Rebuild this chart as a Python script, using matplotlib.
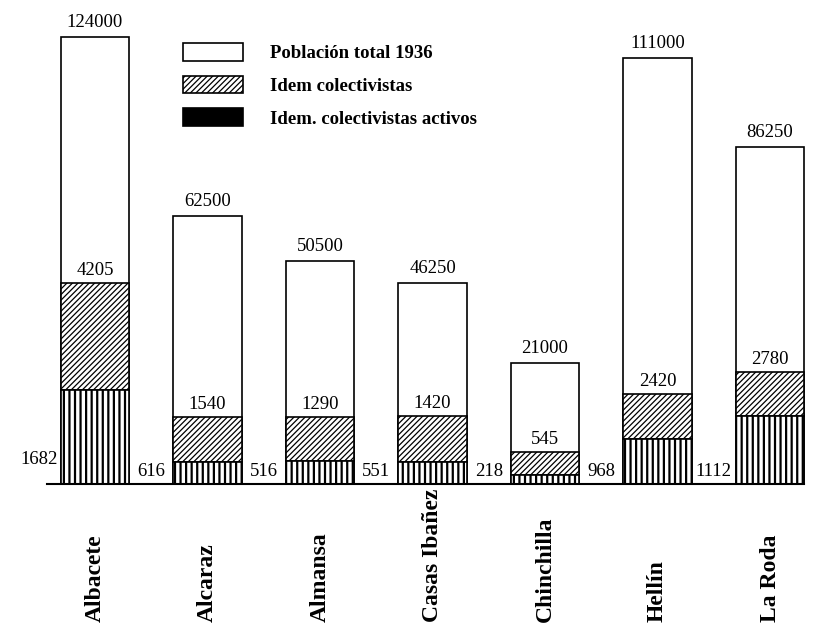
import matplotlib
matplotlib.use("Agg")
import matplotlib.pyplot as plt
from matplotlib.patches import Patch
from matplotlib.transforms import blended_transform_factory

# ---- data -------------------------------------------------------------
categories = ["Albacete", "Alcaraz", "Almansa", "Casas Ibañez",
              "Chinchilla", "Hellín", "La Roda"]

# values written on the chart
poblacion_total = [124000, 62500, 50500, 46250, 21000, 111000, 86250]
colectivistas = [4205, 1540, 1290, 1420, 545, 2420, 2780]
colectivistas_activos = [1682, 616, 516, 551, 218, 968, 1112]

# bar heights as drawn in the original (not to scale)
# in drawing units
alto_total = [447, 268, 223, 201, 121, 426, 337]
alto_colect = [201, 67, 67, 68, 32, 90, 112]
alto_activos = [94, 22, 23, 22, 9, 45, 68]

legend_labels = ["Población total 1936", "Idem colectivistas",
                 "Idem. colectivistas activos"]

# ---- figure -----------------------------------------------------------
W, H = 832, 629
fig = plt.figure(figsize=(W / 100, H / 100), dpi=100)
base_px = 484
ax = fig.add_axes([0, (H - base_px) / H, 1, base_px / H])
ax.set_ylim(0, base_px)
step = 112.5
c0 = 95
ax.set_xlim(-c0 / step, (W - c0) / step)
ax.axis("off")

plt.rcParams["font.family"] = ["Liberation Serif", "DejaVu Serif"]

x = list(range(len(categories)))
bw = 0.605

with plt.rc_context({"hatch.linewidth": 0.9}):
    b1 = ax.bar(x, alto_total, width=bw, facecolor="white",
                edgecolor="black", linewidth=1.2, zorder=2)
    hatched_h = [c - a for c, a in zip(alto_colect, alto_activos)]
    b2 = ax.bar(x, hatched_h, bottom=alto_activos, width=bw,
                facecolor="white", edgecolor="black", linewidth=1.2,
                hatch="//////", zorder=3)
with plt.rc_context({"hatch.linewidth": 1.6}):
    b3 = ax.bar(x, alto_activos, width=bw, facecolor="white",
                edgecolor="black", linewidth=1.2, hatch="|||", zorder=3)

# baseline
ax.plot([-0.43, len(x) - 1 + bw / 2], [0, 0], color="black",
        lw=1.5, zorder=4, clip_on=False)

num_fs = 13.5
for i in x:
    ax.text(i, alto_total[i] + 6, f"{poblacion_total[i]}", ha="center",
            va="bottom", fontsize=num_fs)
    ax.text(i, alto_colect[i] + 4, f"{colectivistas[i]}", ha="center",
            va="bottom", fontsize=num_fs)
    yoff = 24 if i == 0 else 13
    ax.text(i - 0.5, yoff, f"{colectivistas_activos[i]}", ha="center",
            va="center", fontsize=num_fs)

# category labels
trans = blended_transform_factory(ax.transData, fig.transFigure)
for i, name in enumerate(categories):
    ax.text(i, 7 / H, name, rotation=90, ha="center", va="bottom",
            fontsize=17, fontweight="bold", transform=trans)

# legend
with plt.rc_context({"hatch.linewidth": 0.9}):
    handles = [
        Patch(facecolor="white", edgecolor="black", linewidth=1.2),
        Patch(facecolor="white", edgecolor="black", linewidth=1.2,
              hatch="//////"),
        Patch(facecolor="black", edgecolor="black", linewidth=1.2,
              hatch="|||"),
    ]
    leg = fig.legend(handles, legend_labels, loc="upper left",
                     bbox_to_anchor=(183 / W, 1 - 43 / H), frameon=False,
                     borderpad=0, borderaxespad=0, handlelength=3.2,
                     handleheight=1.07, labelspacing=0.72,
                     handletextpad=1.45,
                     prop={"size": 13.5, "weight": "bold",
                           "family": ["Liberation Serif"]})

fig.savefig("out.png", dpi=100)
